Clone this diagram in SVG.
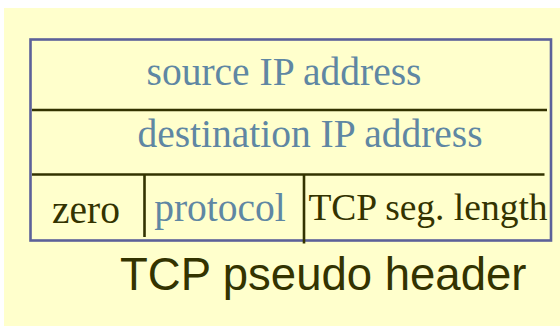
<svg xmlns="http://www.w3.org/2000/svg" width="560" height="327" viewBox="0 0 560 327">
  <style>
    .frame { fill: none; stroke: #5c6199; stroke-width: 2.6; }
    .rule { stroke: #333300; stroke-width: 2.6; fill: none; }
    .field { font-family: "Liberation Serif", "Times New Roman", serif; font-size: 39.5px; }
    .blue { fill: #5f87a3; }
    .dark { fill: #333300; }
    .caption { font-family: "Liberation Sans", Arial, sans-serif; font-size: 45.5px; fill: #333300; }
  </style>

  <!-- page background -->
  <rect x="0" y="0" width="560" height="327" fill="#ffffff"/>
  <rect x="4" y="8" width="556" height="318" fill="#ffffcc"/>

  <!-- outer frame of the pseudo header -->
  <rect class="frame" x="30.5" y="39.5" width="520.5" height="201"/>

  <!-- row and column rules -->
  <g id="rules">
    <line class="rule" x1="32" y1="110" x2="547" y2="110"/>
    <line class="rule" x1="32" y1="174.5" x2="544.5" y2="174.5"/>
    <line class="rule" x1="144.5" y1="175" x2="144.5" y2="237"/>
    <line class="rule" x1="304" y1="175" x2="304" y2="243.5"/>
  </g>

  <g id="source-ip">
    <text class="field blue" x="284" y="85" text-anchor="middle">source IP address</text>
  </g>
  <g id="destination-ip">
    <text class="field blue" x="310" y="147" text-anchor="middle">destination IP address</text>
  </g>
  <g id="zero">
    <text class="field dark" x="86" y="223" text-anchor="middle">zero</text>
  </g>
  <g id="protocol">
    <text class="field blue" x="220" y="221" text-anchor="middle">protocol</text>
  </g>
  <g id="tcp-seg-length">
    <text class="field dark" x="428" y="220" text-anchor="middle" style="font-size:37.5px">TCP seg. length</text>
  </g>

  <text class="caption" x="120" y="290">TCP pseudo header</text>
</svg>
